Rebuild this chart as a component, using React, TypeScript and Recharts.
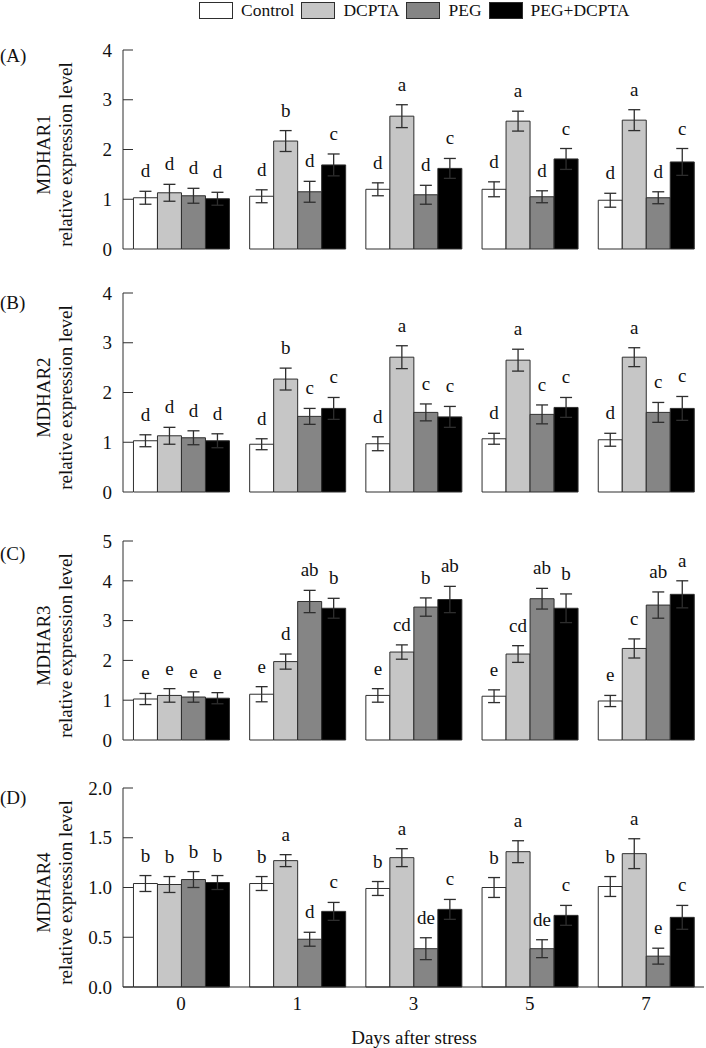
import React from "react";
import { BarChart, Bar, XAxis, YAxis, ErrorBar, LabelList, Label } from "recharts";

const days = ["0", "1", "3", "5", "7"];
const treatments = ["Control", "DCPTA", "PEG", "PEG+DCPTA"];
const fills = ["#ffffff", "#c6c6c6", "#858585", "#000000"];

// rows: Control, DCPTA, PEG, PEG+DCPTA ; columns: days
const mdhar1Mean = [
  [1.03, 1.06, 1.2, 1.2, 0.98],
  [1.13, 2.17, 2.67, 2.57, 2.59],
  [1.07, 1.15, 1.09, 1.05, 1.03],
  [1.01, 1.69, 1.62, 1.81, 1.75],
];
const mdhar1Err = [
  [0.13, 0.13, 0.13, 0.15, 0.14],
  [0.17, 0.21, 0.23, 0.2, 0.21],
  [0.15, 0.21, 0.19, 0.12, 0.12],
  [0.13, 0.22, 0.2, 0.21, 0.27],
];
const mdhar1Sig = [
  ["d", "d", "d", "d", "d"],
  ["d", "b", "a", "a", "a"],
  ["d", "d", "d", "d", "d"],
  ["d", "c", "c", "c", "c"],
];

const mdhar2Mean = [
  [1.03, 0.96, 0.97, 1.07, 1.05],
  [1.13, 2.27, 2.71, 2.65, 2.71],
  [1.09, 1.52, 1.6, 1.56, 1.6],
  [1.03, 1.68, 1.51, 1.7, 1.68],
];
const mdhar2Err = [
  [0.12, 0.11, 0.14, 0.11, 0.13],
  [0.17, 0.22, 0.23, 0.22, 0.19],
  [0.14, 0.16, 0.17, 0.19, 0.2],
  [0.14, 0.22, 0.21, 0.2, 0.24],
];
const mdhar2Sig = [
  ["d", "d", "d", "d", "d"],
  ["d", "b", "a", "a", "a"],
  ["d", "c", "c", "c", "c"],
  ["d", "c", "c", "c", "c"],
];

const mdhar3Mean = [
  [1.03, 1.15, 1.12, 1.1, 0.98],
  [1.12, 1.97, 2.21, 2.16, 2.3],
  [1.08, 3.48, 3.34, 3.55, 3.39],
  [1.05, 3.31, 3.53, 3.31, 3.66],
];
const mdhar3Err = [
  [0.14, 0.19, 0.17, 0.16, 0.14],
  [0.17, 0.19, 0.18, 0.21, 0.24],
  [0.13, 0.28, 0.23, 0.26, 0.33],
  [0.14, 0.25, 0.33, 0.36, 0.34],
];
const mdhar3Sig = [
  ["e", "e", "e", "e", "e"],
  ["e", "d", "cd", "cd", "c"],
  ["e", "ab", "b", "ab", "ab"],
  ["e", "b", "ab", "b", "a"],
];

const mdhar4Mean = [
  [1.04, 1.04, 0.99, 1.0, 1.01],
  [1.03, 1.27, 1.3, 1.36, 1.34],
  [1.08, 0.48, 0.385, 0.385, 0.31],
  [1.05, 0.76, 0.78, 0.72, 0.7],
];
const mdhar4Err = [
  [0.08, 0.07, 0.07, 0.1, 0.1],
  [0.08, 0.06, 0.09, 0.11, 0.15],
  [0.08, 0.07, 0.11, 0.09, 0.08],
  [0.07, 0.09, 0.1, 0.1, 0.12],
];
const mdhar4Sig = [
  ["b", "b", "b", "b", "b"],
  ["b", "a", "a", "a", "a"],
  ["b", "d", "de", "de", "e"],
  ["b", "c", "c", "c", "c"],
];

const FONT = '"Liberation Serif", "Times New Roman", serif';
const INK = "#2e2e2e";
const FS = 19;

const buildRows = (mean: number[][], err: number[][], sig: string[][]) =>
  days.map((day, i) => {
    const row: Record<string, any> = { day };
    mean.forEach((s, k) => {
      row["m" + k] = s[i];
      row["e" + k] = err[k][i];
      row["s" + k] = sig[k][i];
    });
    return row;
  });

// letter sits above the error bar; error length in px taken from the bar's own height
const sigLabel = (rows: Record<string, any>[], k: number) => (props: any) => {
  const vb = props.viewBox ?? props;
  const x = Number(vb.x);
  const y = Number(vb.y);
  const w = Number(vb.width);
  const h = Math.abs(Number(vb.height));
  const row = rows[props.index];
  if (!row) return null;
  const errPx = (h * row["e" + k]) / row["m" + k];
  return (
    <text x={x + w / 2} y={y - errPx - 14} textAnchor="middle" fontSize={FS} fontFamily={FONT} fill="#111">
      {props.value}
    </text>
  );
};

const yTitle = (gene: string) => (props: any) => {
  const vb = props.viewBox ?? {};
  const cy = Number(vb.y) + Number(vb.height) / 2 + 5;
  return (
    <g>
      <text x={43} y={cy} transform={`rotate(-90, 43, ${cy})`} textAnchor="middle" dominantBaseline="central" fontSize={FS} fontFamily={FONT} fill="#111">
        {gene}
      </text>
      <text x={65} y={cy} transform={`rotate(-90, 65, ${cy})`} textAnchor="middle" dominantBaseline="central" fontSize={FS} fontFamily={FONT} fill="#111">
        relative expression level
      </text>
    </g>
  );
};

type PanelProps = {
  gene: string;
  rows: Record<string, any>[];
  yMax: number;
  ticks: number[];
  top: number;
  height: number;
  marginTop: number;
  showX?: boolean;
  decimals?: number;
};

const Panel = ({ gene, rows, yMax, ticks, top, height, marginTop, showX, decimals = 0 }: PanelProps) => (
  <div style={{ position: "absolute", left: 0, top }}>
    <BarChart
      width={706}
      height={height}
      data={rows}
      margin={{ top: marginTop, right: 2, left: 0, bottom: showX ? 0 : 14 }}
      barCategoryGap="9%"
      barGap={0}
    >
      <XAxis
        dataKey="day"
        height={showX ? 31 : 0}
        tick={showX ? { fontSize: FS, fontFamily: FONT, fill: "#111" } : false}
        tickLine={false}
        tickSize={0}
        tickMargin={10}
        axisLine={{ stroke: INK }}
      />
      <XAxis xAxisId="top" dataKey="day" orientation="top" height={0} tick={false} tickLine={false} axisLine={{ stroke: INK }} />
      <YAxis
        width={123}
        domain={[0, yMax]}
        ticks={ticks}
        interval={0}
        tickSize={-10}
        tickMargin={21}
        tickLine={{ stroke: INK }}
        axisLine={{ stroke: INK }}
        tick={{ fontSize: FS, fontFamily: FONT, fill: "#111" }}
        tickFormatter={(v: number) => v.toFixed(decimals)}
      >
        <Label content={yTitle(gene)} />
      </YAxis>
      <YAxis yAxisId="right" orientation="right" width={0} tick={false} tickLine={false} axisLine={{ stroke: INK }} />
      {treatments.map((name, k) => (
        <Bar key={name} name={name} dataKey={"m" + k} fill={fills[k]} stroke={INK} strokeWidth={1} isAnimationActive={false}>
          <ErrorBar dataKey={"e" + k} width={6} stroke={INK} strokeWidth={1.3} direction="y" />
          <LabelList dataKey={"s" + k} content={sigLabel(rows, k)} />
        </Bar>
      ))}
    </BarChart>
  </div>
);

const LegendRow = () => (
  <div style={{ position: "absolute", left: 199, top: 1, display: "flex", alignItems: "center", fontFamily: FONT, fontSize: 17.5, color: "#111", lineHeight: "18px" }}>
    {treatments.map((name, k) => (
      <div key={name} style={{ display: "flex", alignItems: "center", marginRight: 7 }}>
        <div style={{ width: 34, height: 17, background: fills[k], border: `1px solid ${INK}`, boxSizing: "border-box", marginRight: 8 }} />
        <span>{name}</span>
      </div>
    ))}
  </div>
);

const textStyle = { fontFamily: FONT, fontSize: FS, fill: "#111" };

export default function App() {
  return (
    <div style={{ position: "absolute", left: 0, top: 0, width: 706, height: 1048, background: "#fff" }}>
      <LegendRow />
      <Panel gene="MDHAR1" rows={buildRows(mdhar1Mean, mdhar1Err, mdhar1Sig)} yMax={4} ticks={[0, 1, 2, 3, 4]} top={0} height={263} marginTop={50} />
      <Panel gene="MDHAR2" rows={buildRows(mdhar2Mean, mdhar2Err, mdhar2Sig)} yMax={4} ticks={[0, 1, 2, 3, 4]} top={283} height={223} marginTop={10} />
      <Panel gene="MDHAR3" rows={buildRows(mdhar3Mean, mdhar3Err, mdhar3Sig)} yMax={5} ticks={[0, 1, 2, 3, 4, 5]} top={531} height={223} marginTop={10} />
      <Panel gene="MDHAR4" rows={buildRows(mdhar4Mean, mdhar4Err, mdhar4Sig)} yMax={2} ticks={[0, 0.5, 1, 1.5, 2]} top={778} height={240} marginTop={10} showX decimals={1} />
      <svg width={706} height={1048} style={{ position: "absolute", left: 0, top: 0, pointerEvents: "none" }}>
        <text x={0} y={62} style={textStyle}>(A)</text>
        <text x={0} y={309} style={textStyle}>(B)</text>
        <text x={0} y={560} style={textStyle}>(C)</text>
        <text x={0} y={804} style={textStyle}>(D)</text>
        <text x={414} y={1044} textAnchor="middle" style={textStyle}>Days after stress</text>
      </svg>
    </div>
  );
}
